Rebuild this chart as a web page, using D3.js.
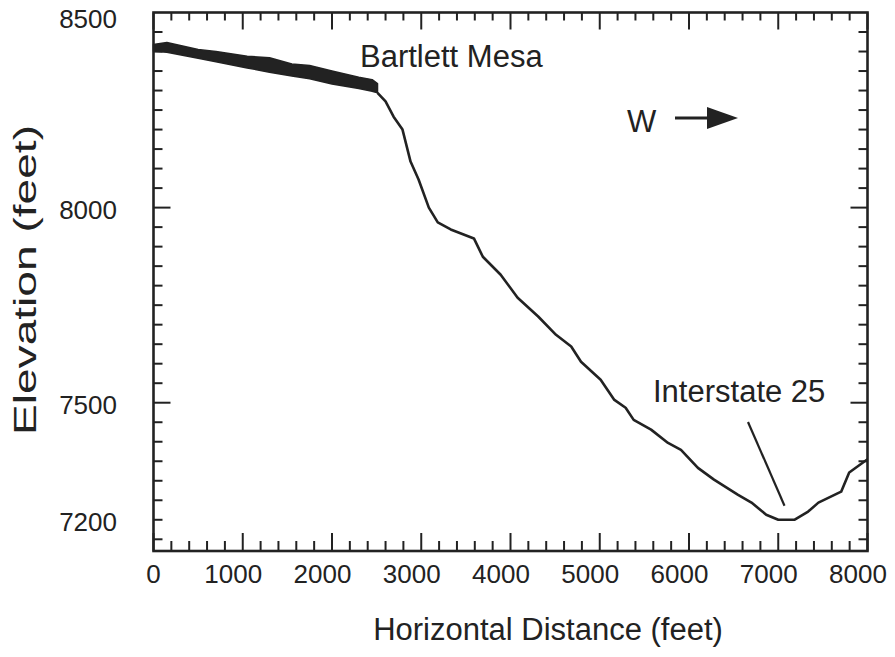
<!DOCTYPE html>
<html>
<head>
<meta charset="utf-8">
<script src="https://cdn.jsdelivr.net/npm/d3@7"></script>
<style>
  html, body { margin: 0; padding: 0; background: #fff; }
  svg { display: block; }
  text { font-family: "Liberation Sans", Arial, Helvetica, sans-serif; fill: #222; }
</style>
</head>
<body>
<svg id="chart" width="895" height="657"></svg>
<script>
// Mesa cap: upper and lower surface of the Bartlett Mesa caprock (feet)
const mesaDistance = [0, 150, 500, 700, 1050, 1300, 1550, 1750, 2000, 2300, 2450, 2510];
const mesaTop      = [8418, 8423, 8405, 8400, 8388, 8384, 8368, 8364, 8350, 8334, 8328, 8318];
const mesaBase     = [8401, 8398, 8383, 8374, 8358, 8347, 8337, 8330, 8317, 8305, 8298, 8294];

// Ground profile from the mesa rim westward past Interstate 25
const profileDistance = [2510, 2600, 2690, 2790, 2880, 2970, 3085, 3185, 3330, 3590, 3690, 3890,
  4080, 4310, 4510, 4680, 4790, 5010, 5160, 5290, 5380, 5575, 5765, 5910, 6100, 6280, 6550,
  6700, 6865, 7000, 7180, 7335, 7450, 7705, 7795, 8000];
const profileElevation = [8294, 8272, 8233, 8200, 8118, 8072, 8000, 7962, 7944, 7921, 7874, 7828,
  7769, 7721, 7674, 7644, 7605, 7559, 7508, 7487, 7456, 7431, 7397, 7379, 7333, 7303, 7264,
  7244, 7213, 7200, 7200, 7221, 7244, 7272, 7321, 7355];

// Axis ticks and labels
const xLabelTicks = [0, 1000, 2000, 3000, 4000, 5000, 6000, 7000, 8000];
const yLabelTicks = [8500, 8000, 7500, 7200];
const yMajorTicks = [8000, 7500];

const svg = d3.select("#chart");
const ink = "#222";

const plotLeft = 153.5, plotRight = 867.5, plotTop = 12.5, plotBottom = 551;
const x = d3.scaleLinear().domain([0, 8000]).range([plotLeft, plotRight]);
const y = d3.scaleLinear().domain([7120, 8500]).range([plotBottom, plotTop]);

// ---- frame ticks (all pointing inward) ----
const xMinor = d3.range(0, 8001, 200);
const yMinor = d3.range(7150, 8500, 50);

const ticks = svg.append("g").attr("stroke", ink).attr("stroke-width", 2);
xMinor.forEach(v => {
  const len = v % 1000 === 0 ? 18 : 10;
  ticks.append("line").attr("x1", x(v)).attr("x2", x(v)).attr("y1", plotBottom).attr("y2", plotBottom - len);
  const lenT = v % 1000 === 0 ? 17 : 8;
  ticks.append("line").attr("x1", x(v)).attr("x2", x(v)).attr("y1", plotTop).attr("y2", plotTop + lenT);
});
yMinor.forEach(v => {
  const len = yMajorTicks.includes(v) ? 17 : 9;
  ticks.append("line").attr("x1", plotLeft).attr("x2", plotLeft + len).attr("y1", y(v)).attr("y2", y(v));
  ticks.append("line").attr("x1", plotRight).attr("x2", plotRight - len).attr("y1", y(v)).attr("y2", y(v));
});

// frame
svg.append("rect")
  .attr("x", plotLeft).attr("y", plotTop)
  .attr("width", plotRight - plotLeft).attr("height", plotBottom - plotTop)
  .attr("fill", "none").attr("stroke", ink).attr("stroke-width", 2.6);

// ---- tick labels ----
// multi-digit labels sit slightly left of their tick
svg.append("g").selectAll("text").data(xLabelTicks).join("text")
  .attr("x", d => x(d) - (d === 0 ? 0 : 9.5)).attr("y", 583)
  .attr("text-anchor", "middle").attr("font-size", 26)
  .text(d => d);

svg.append("g").selectAll("text").data(yLabelTicks).join("text")
  .attr("x", 117).attr("y", d => y(d) + (d === 8500 ? 15 : 11))
  .attr("text-anchor", "end").attr("font-size", 26)
  .text(d => d);

// ---- axis titles ----
svg.append("text")
  .attr("x", 548).attr("y", 640)
  .attr("text-anchor", "middle").attr("font-size", 31)
  .text("Horizontal Distance (feet)");

svg.append("text")
  .attr("transform", "translate(36,280) rotate(-90)")
  .attr("text-anchor", "middle").attr("font-size", 31)
  .attr("textLength", 310).attr("lengthAdjust", "spacingAndGlyphs")
  .text("Elevation (feet)");

// ---- mesa caprock (filled) ----
const mesa = mesaDistance.map((d, i) => ({ d, t: mesaTop[i], b: mesaBase[i] }));
svg.append("path")
  .datum(mesa)
  .attr("d", d3.area().x(p => x(p.d)).y0(p => y(p.b)).y1(p => y(p.t)))
  .attr("fill", ink).attr("stroke", ink).attr("stroke-width", 1.5).attr("stroke-linejoin", "round");

// ---- ground profile ----
const profile = profileDistance.map((d, i) => ({ d, e: profileElevation[i] }));
svg.append("path")
  .datum(profile)
  .attr("d", d3.line().x(p => x(p.d)).y(p => y(p.e)))
  .attr("fill", "none").attr("stroke", ink).attr("stroke-width", 2.6)
  .attr("stroke-linejoin", "round");

// ---- annotations ----
svg.append("text").attr("x", 360).attr("y", 67).attr("font-size", 31).text("Bartlett Mesa");

svg.append("text").attr("x", 653).attr("y", 402).attr("font-size", 31).text("Interstate 25");
svg.append("line")
  .attr("x1", 748).attr("y1", 422).attr("x2", x(7070)).attr("y2", y(7236))
  .attr("stroke", ink).attr("stroke-width", 2.2);

// direction arrow
svg.append("text").attr("x", 627).attr("y", 132).attr("font-size", 31).text("W");
svg.append("line").attr("x1", 675).attr("y1", 118).attr("x2", 710).attr("y2", 118)
  .attr("stroke", ink).attr("stroke-width", 3);
svg.append("path").attr("d", "M707,107 L738,118 L707,129 Z").attr("fill", ink);
</script>
</body>
</html>
